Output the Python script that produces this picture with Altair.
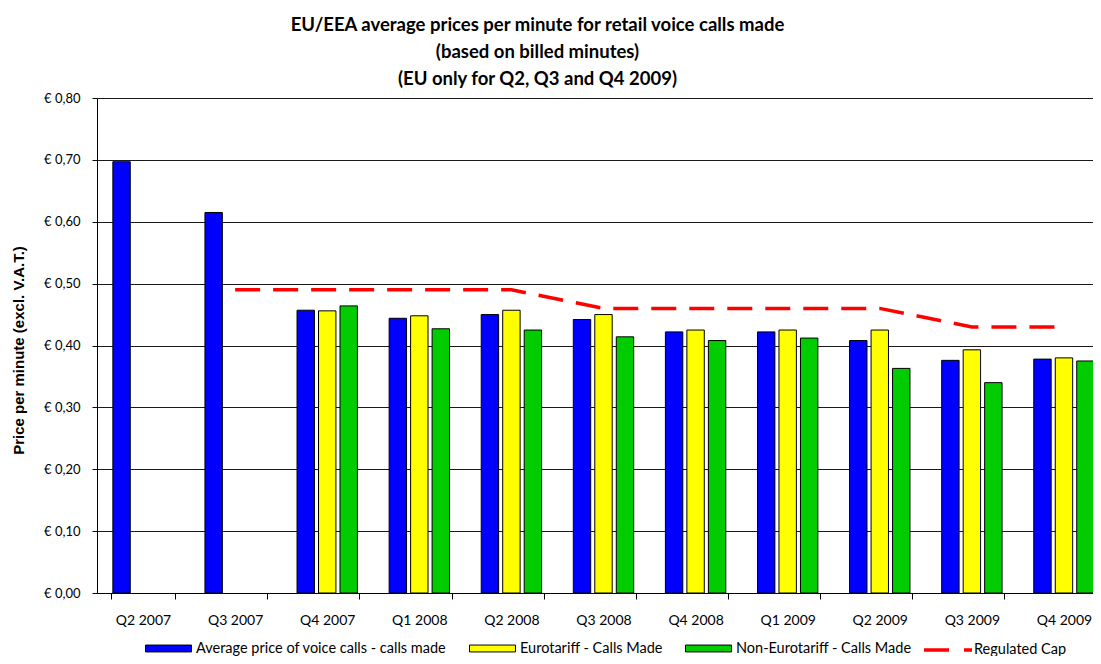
import altair as alt
import pandas as pd

quarters = ["Q2 2007", "Q3 2007", "Q4 2007", "Q1 2008", "Q2 2008", "Q3 2008",
            "Q4 2008", "Q1 2009", "Q2 2009", "Q3 2009", "Q4 2009"]
series_names = ["Average price of voice calls - calls made",
                "Eurotariff - Calls Made",
                "Non-Eurotariff - Calls Made"]
series_colors = ["#0000FF", "#FFFF00", "#00CC00"]

avg_price = [0.697, 0.615, 0.457, 0.444, 0.450, 0.442, 0.422, 0.422, 0.408, 0.376, 0.378]
eurotariff = [None, None, 0.456, 0.448, 0.457, 0.450, 0.425, 0.425, 0.425, 0.393, 0.380]
non_eurotariff = [None, None, 0.464, 0.427, 0.425, 0.414, 0.408, 0.412, 0.363, 0.340, 0.375]

cap_quarters = ["Q3 2007", "Q4 2007", "Q1 2008", "Q2 2008", "Q3 2008",
                "Q4 2008", "Q1 2009", "Q2 2009", "Q3 2009", "Q4 2009"]
regulated_cap = [0.49, 0.49, 0.49, 0.49, 0.46, 0.46, 0.46, 0.46, 0.43, 0.43]
cap_name = "Regulated Cap"

y_ticks = [0.0, 0.1, 0.2, 0.3, 0.4, 0.5, 0.6, 0.7, 0.8]

title_lines = ["EU/EEA average prices per minute for retail voice calls made",
               "(based on billed minutes)",
               "(EU only for Q2, Q3 and Q4 2009)"]
y_title = "Price per minute (excl. V.A.T.)"

rows = []
for s, vals in zip(series_names, [avg_price, eurotariff, non_eurotariff]):
    for q, v in zip(quarters, vals):
        if v is not None:
            rows.append({"quarter": q, "series": s, "value": v})
bars_df = pd.DataFrame(rows)
cap_df = pd.DataFrame({"quarter": cap_quarters, "value": regulated_cap,
                       "label": [cap_name] * len(cap_quarters)})

x_enc = alt.X(
    "quarter:N", sort=quarters,
    scale=alt.Scale(domain=quarters, paddingInner=0.3, paddingOuter=0.15),
    axis=alt.Axis(title=None, labelAngle=0, tickBand="extent", tickSize=6,
                  labelPadding=14, labelFont="Lato", labelFontSize=14,
                  labelColor="black", domainColor="black", tickColor="black",
                  domainWidth=1, tickWidth=1, grid=False),
)
y_enc = alt.Y(
    "value:Q",
    scale=alt.Scale(domain=[0, 0.8], nice=False, zero=True),
    axis=alt.Axis(title=y_title, values=y_ticks,
                  labelExpr="'€ ' + replace(format(datum.value, '.2f'), '.', ',')",
                  grid=True, gridColor="#1a1a1a", gridWidth=1,
                  tickSize=5, tickColor="black", domainColor="black",
                  labelPadding=12, labelFont="Lato", labelFontSize=13,
                  labelColor="black",
                  titleFont="Liberation Sans", titleFontSize=15,
                  titleFontWeight="bold", titleColor="black",
                  titleAngle=-90, titleX=-74, titleY=252,
                  titleAlign="center", titleBaseline="alphabetic"),
)

bars = alt.Chart(bars_df).mark_bar(stroke="black", strokeWidth=1).encode(
    x=x_enc,
    y=y_enc,
    xOffset=alt.XOffset("series:N", sort=series_names,
                        scale=alt.Scale(domain=series_names,
                                        paddingInner=0.19, paddingOuter=0.095)),
    fill=alt.Fill("series:N",
                  scale=alt.Scale(domain=series_names, range=series_colors),
                  legend=alt.Legend(title=None, orient="none", legendX=48,
                                    legendY=527, direction="horizontal",
                                    symbolType="M-1,-0.15H1V0.15H-1Z",
                                    symbolSize=2116, symbolStrokeColor="black",
                                    symbolStrokeWidth=1, symbolOpacity=1,
                                    labelFont="Lato", labelFontSize=14.5,
                                    labelLimit=400,
                                    labelColor="black", labelOffset=4,
                                    columnPadding=20, padding=0)),
)

line = alt.Chart(cap_df).mark_line(strokeWidth=3.5, strokeDash=[25, 13]).encode(
    x=x_enc,
    y=y_enc,
    stroke=alt.Stroke("label:N",
                      scale=alt.Scale(domain=[cap_name], range=["#FF0000"]),
                      legend=alt.Legend(title=None, orient="none", legendX=825,
                                        legendY=526, symbolType="stroke",
                                        symbolSize=2304, symbolStrokeWidth=3.5,
                                        symbolDash=[25, 15],
                                        labelFont="Lato", labelFontSize=14.5,
                                        labelLimit=300,
                                        labelColor="black", labelOffset=0,
                                        padding=0)),
)

chart = alt.layer(bars, line).properties(
    width=1013,
    height=495,
    title=alt.Title(title_lines, font="Lato", fontSize=18.5, fontWeight="bold",
                    lineHeight=27, anchor="middle", frame="group", dx=-66,
                    offset=4, color="black"),
    autosize=alt.AutoSizeParams(type="none"),
    padding={"left": 89, "top": 90, "right": -17, "bottom": 63},
).configure_view(stroke=None).configure(background="white")

chart.save("out.html", embed_options={"renderer": "svg", "actions": False})
